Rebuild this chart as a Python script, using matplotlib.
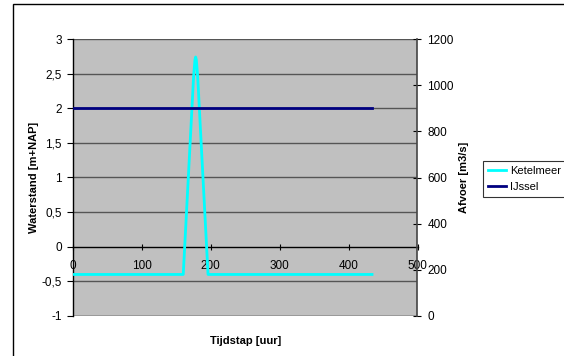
import matplotlib
matplotlib.use("Agg")
import matplotlib.pyplot as plt
from matplotlib.patches import Rectangle
from matplotlib.ticker import FuncFormatter

plt.rcParams['font.family'] = ['Liberation Sans', 'DejaVu Sans']

# Data
ket_t = [0, 160, 175, 177, 178, 179, 181, 196, 434]
ket_h = [-0.4, -0.4, 2.45, 2.7, 2.74, 2.7, 2.45, -0.4, -0.4]
ijs_t = [0, 434]
ijs_q = [900, 900]

left_ticks = [-1, -0.5, 0, 0.5, 1, 1.5, 2, 2.5, 3]
right_ticks = [0, 200, 400, 600, 800, 1000, 1200]
x_ticks = [0, 100, 200, 300, 400, 500]

W, H = 564, 356
fig = plt.figure(figsize=(W / 100, H / 100), dpi=100)
fig.patches.append(Rectangle((13 / W, -0.1), 1.2, 1 - 4 / H + 0.1, transform=fig.transFigure,
                             fill=False, edgecolor='black', linewidth=1.0))

ax = fig.add_axes([73 / W, 1 - 316 / H, (417.5 - 73) / W, (316 - 39) / H])
ax.set_facecolor('#C0C0C0')
ax.set_xlim(0, 500)
ax.set_ylim(-1, 3)
for y in left_ticks:
    if y in (0, -1):
        continue
    ax.axhline(y, color='#555555', linewidth=1.0, zorder=1)
ax.axhline(-1, color='black', linewidth=1.0, zorder=1)

ax.spines['top'].set_visible(False)
ax.spines['right'].set_visible(False)
ax.spines['bottom'].set_position(('data', 0))
ax.spines['bottom'].set_linewidth(1.0)
ax.spines['left'].set_linewidth(1.0)

ax.set_xticks(x_ticks)
ax.set_yticks(left_ticks)
fmt = FuncFormatter(lambda v, p: ('%g' % v).replace('.', ','))
ax.yaxis.set_major_formatter(fmt)
ax.tick_params(axis='x', direction='inout', length=5, width=0.8, labelsize=8.5, pad=7, colors='black')
ax.tick_params(axis='y', direction='out', length=4, width=0.8, labelsize=8.5, pad=4)

l1, = ax.plot(ket_t, ket_h, color='#00FFFF', linewidth=2, zorder=3, label='Ketelmeer')
ax.set_ylabel('Waterstand [m+NAP]', fontsize=8, fontweight='bold')
ax.yaxis.set_label_coords(-34 / 344.5, 0.5)
ax.set_xlabel('Tijdstap [uur]', fontsize=8, fontweight='bold')
ax.xaxis.set_label_coords(0.5, -0.072)

ax2 = ax.twinx()
ax2.set_ylim(0, 1200)
ax2.set_yticks(right_ticks)
for s in ['top', 'left', 'bottom']:
    ax2.spines[s].set_visible(False)
ax2.spines['right'].set_color('#444444')
ax2.spines['right'].set_linewidth(1.2)
ax2.tick_params(axis='y', direction='inout', length=6, width=0.8, labelsize=8.5, pad=4)
l2, = ax2.plot(ijs_t, ijs_q, color='#000080', linewidth=2, zorder=3, label='IJssel')
ax2.set_ylabel('Afvoer [m3/s]', fontsize=8, fontweight='bold')
ax2.yaxis.set_label_coords(1 + 41.5 / 344.5, 0.5)

leg = fig.legend(handles=[l1, l2], loc='upper left', bbox_to_anchor=(483 / W, 1 - 160.5 / H),
                 fontsize=8, frameon=True, fancybox=False, edgecolor='black',
                 handlelength=1.6, handletextpad=0.35, borderpad=0.45, labelspacing=0.55,
                 borderaxespad=0)
leg.get_frame().set_linewidth(0.8)

fig.savefig('out.png', dpi=100)
